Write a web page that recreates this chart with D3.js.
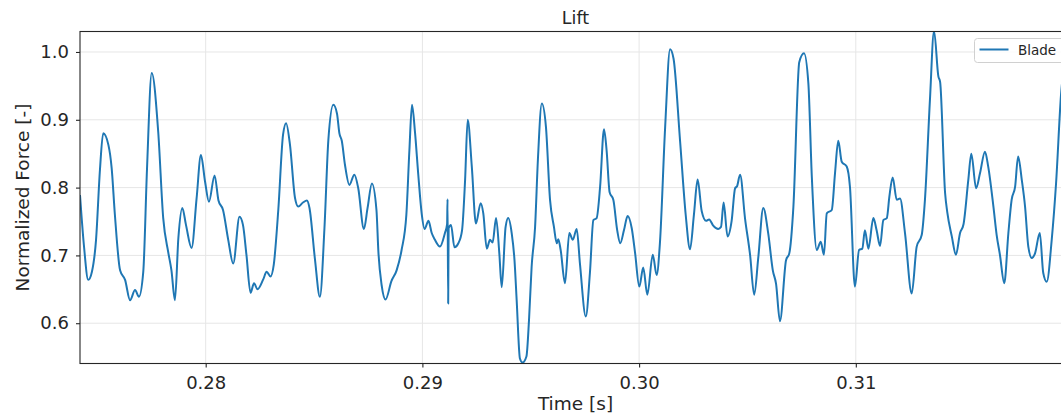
<!DOCTYPE html>
<html>
<head>
<meta charset="utf-8">
<script src="https://cdn.jsdelivr.net/npm/d3@7"></script>
<style>
  body { margin: 0; background: #fff; overflow: hidden; }
  svg { display: block; font-family: "DejaVu Sans", sans-serif; }
</style>
</head>
<body>
<div id="chart"></div>
<script>
// Time [s] samples
var times = [
  0.27420, 0.27438, 0.27458, 0.27475, 0.27494, 0.27512, 0.27527, 0.27551, 0.27566, 0.27581,
  0.27605, 0.27628, 0.27651, 0.27674, 0.27692, 0.27712, 0.27729, 0.27751, 0.27781, 0.27804,
  0.27827, 0.27842, 0.27858, 0.27874, 0.27892, 0.27909, 0.27935, 0.27958, 0.27978, 0.27997,
  0.28015, 0.28041, 0.28059, 0.28080, 0.28104, 0.28127, 0.28156, 0.28172, 0.28188, 0.28207,
  0.28223, 0.28239, 0.28266, 0.28281, 0.28299, 0.28314, 0.28335, 0.28357, 0.28371, 0.28389,
  0.28412, 0.28427, 0.28449, 0.28467, 0.28479, 0.28504, 0.28527, 0.28548, 0.28566, 0.28589,
  0.28606, 0.28617, 0.28628, 0.28643, 0.28663, 0.28686, 0.28704, 0.28730, 0.28747, 0.28767,
  0.28788, 0.28797, 0.28812, 0.28830, 0.28857, 0.28881, 0.28904, 0.28926, 0.28940, 0.28952,
  0.28966, 0.28981, 0.28997, 0.29010, 0.29028, 0.29043, 0.29058, 0.29081, 0.29104, 0.29114,
  0.29116, 0.29119, 0.29121, 0.29132, 0.29148, 0.29166, 0.29183, 0.29197, 0.29209, 0.29228,
  0.29247, 0.29269, 0.29281, 0.29297, 0.29312, 0.29324, 0.29340, 0.29355, 0.29366, 0.29384,
  0.29396, 0.29412, 0.29425, 0.29435, 0.29450, 0.29462, 0.29480, 0.29492, 0.29504, 0.29520,
  0.29533, 0.29551, 0.29570, 0.29589, 0.29607, 0.29620, 0.29627, 0.29638, 0.29658, 0.29678,
  0.29694, 0.29712, 0.29727, 0.29754, 0.29773, 0.29789, 0.29804, 0.29820, 0.29838, 0.29850,
  0.29864, 0.29881, 0.29899, 0.29913, 0.29930, 0.29947, 0.29966, 0.29981, 0.30001, 0.30019,
  0.30038, 0.30063, 0.30081, 0.30096, 0.30120, 0.30143, 0.30159, 0.30189, 0.30215, 0.30235,
  0.30253, 0.30270, 0.30289, 0.30309, 0.30323, 0.30342, 0.30365, 0.30378, 0.30390, 0.30408,
  0.30427, 0.30443, 0.30452, 0.30466, 0.30489, 0.30512, 0.30531, 0.30550, 0.30573, 0.30596,
  0.30617, 0.30632, 0.30650, 0.30678, 0.30693, 0.30712, 0.30739, 0.30761, 0.30781, 0.30797,
  0.30820, 0.30838, 0.30853, 0.30866, 0.30889, 0.30904, 0.30919, 0.30935, 0.30958, 0.30973,
  0.30996, 0.31015, 0.31030, 0.31042, 0.31058, 0.31081, 0.31096, 0.31112, 0.31127, 0.31143,
  0.31155, 0.31170, 0.31189, 0.31204, 0.31227, 0.31258, 0.31281, 0.31304, 0.31319, 0.31342,
  0.31361, 0.31381, 0.31389, 0.31412, 0.31422, 0.31443, 0.31462, 0.31481, 0.31497, 0.31519,
  0.31533, 0.31555, 0.31573, 0.31596, 0.31611, 0.31635, 0.31650, 0.31665, 0.31685, 0.31704,
  0.31719, 0.31735, 0.31749, 0.31766, 0.31781, 0.31796, 0.31812, 0.31827, 0.31849, 0.31865,
  0.31881, 0.31904, 0.31924, 0.31947, 0.31970
];

// Normalized lift force of the blade at those times
var forces = [
  0.789, 0.715, 0.664, 0.676, 0.723, 0.826, 0.880, 0.863, 0.829, 0.760,
  0.678, 0.664, 0.634, 0.649, 0.639, 0.676, 0.826, 0.969, 0.882, 0.755,
  0.705, 0.678, 0.634, 0.726, 0.770, 0.745, 0.711, 0.784, 0.848, 0.809,
  0.779, 0.818, 0.781, 0.767, 0.723, 0.688, 0.757, 0.745, 0.701, 0.645,
  0.659, 0.650, 0.665, 0.676, 0.669, 0.686, 0.767, 0.878, 0.895, 0.863,
  0.785, 0.772, 0.778, 0.781, 0.770, 0.695, 0.639, 0.740, 0.870, 0.922,
  0.909, 0.880, 0.869, 0.833, 0.804, 0.819, 0.799, 0.739, 0.770, 0.806,
  0.767, 0.705, 0.656, 0.635, 0.662, 0.678, 0.708, 0.760, 0.855, 0.922,
  0.881, 0.819, 0.761, 0.739, 0.751, 0.733, 0.723, 0.713, 0.733, 0.746,
  0.783, 0.629, 0.740, 0.745, 0.712, 0.718, 0.737, 0.811, 0.900, 0.831,
  0.747, 0.777, 0.762, 0.710, 0.723, 0.719, 0.755, 0.703, 0.653, 0.742,
  0.755, 0.733, 0.693, 0.634, 0.548, 0.542, 0.551, 0.605, 0.683, 0.742,
  0.841, 0.924, 0.890, 0.782, 0.742, 0.718, 0.724, 0.708, 0.659, 0.733,
  0.723, 0.739, 0.688, 0.610, 0.674, 0.752, 0.755, 0.801, 0.886, 0.855,
  0.793, 0.782, 0.737, 0.718, 0.737, 0.758, 0.740, 0.705, 0.654, 0.682,
  0.642, 0.701, 0.671, 0.718, 0.888, 1.004, 0.990, 0.869, 0.760, 0.709,
  0.760, 0.812, 0.765, 0.751, 0.753, 0.744, 0.739, 0.742, 0.778, 0.728,
  0.751, 0.799, 0.802, 0.819, 0.754, 0.701, 0.642, 0.697, 0.770, 0.732,
  0.678, 0.658, 0.603, 0.693, 0.703, 0.772, 0.985, 0.998, 0.954, 0.816,
  0.708, 0.720, 0.701, 0.762, 0.767, 0.821, 0.869, 0.838, 0.831, 0.801,
  0.654, 0.708, 0.710, 0.737, 0.710, 0.755, 0.737, 0.714, 0.752, 0.755,
  0.787, 0.815, 0.782, 0.784, 0.733, 0.644, 0.713, 0.730, 0.782, 0.929,
  1.031, 0.964, 0.956, 0.792, 0.764, 0.728, 0.701, 0.733, 0.746, 0.811,
  0.850, 0.799, 0.821, 0.853, 0.831, 0.772, 0.730, 0.701, 0.659, 0.733,
  0.782, 0.801, 0.846, 0.811, 0.772, 0.713, 0.696, 0.703, 0.733, 0.674,
  0.661, 0.723, 0.806, 0.937, 1.003
];

var xTicks = [0.28, 0.29, 0.30, 0.31];
var yTicks = [0.6, 0.7, 0.8, 0.9, 1.0];
var xDomain = [0.2742, 0.31993];
var yDomain = [0.5406, 1.0302];
var seriesName = "Blade";

function init() {
  var w = 1061;
  var h = 420;
  // axes box (the right spine sits just past the cropped edge)
  var left = 80, right = 1071, top = 31.5, bottom = 363.5;

  var dataset = times.map(function(t, i) {
    return { time: t, force: forces[i] };
  });

  var xScale = d3.scaleLinear()
    .domain(xDomain)
    .range([left, right]);

  var yScale = d3.scaleLinear()
    .domain(yDomain)
    .range([bottom, top]);

  var svg = d3.select("#chart")
    .append("svg")
    .attr("width", w)
    .attr("height", h);

  svg.append("clipPath")
    .attr("id", "plot-clip")
    .append("rect")
    .attr("x", left)
    .attr("y", top)
    .attr("width", right - left)
    .attr("height", bottom - top);

  // grid
  svg.append("g")
    .selectAll("line")
    .data(xTicks)
    .enter()
    .append("line")
    .attr("x1", d => xScale(d))
    .attr("x2", d => xScale(d))
    .attr("y1", top)
    .attr("y2", bottom)
    .attr("stroke", "#e6e6e6")
    .attr("stroke-width", 1);

  svg.append("g")
    .selectAll("line")
    .data(yTicks)
    .enter()
    .append("line")
    .attr("x1", left)
    .attr("x2", right)
    .attr("y1", d => yScale(d))
    .attr("y2", d => yScale(d))
    .attr("stroke", "#e6e6e6")
    .attr("stroke-width", 1);

  var line = d3.line()
    .x(d => xScale(d.time))
    .y(d => yScale(d.force))
    .curve(d3.curveMonotoneX);

  svg.append("path")
    .datum(dataset)
    .attr("clip-path", "url(#plot-clip)")
    .attr("fill", "none")
    .attr("stroke", "#1f77b4")
    .attr("stroke-width", 2)
    .attr("stroke-linejoin", "round")
    .attr("d", line);

  // spines
  svg.append("rect")
    .attr("x", left)
    .attr("y", top)
    .attr("width", right - left)
    .attr("height", bottom - top)
    .attr("fill", "none")
    .attr("stroke", "#262626")
    .attr("stroke-width", 1.1);

  var xAxis = d3.axisBottom(xScale)
    .tickValues(xTicks)
    .tickFormat(d3.format(".2f"))
    .tickSize(4)
    .tickPadding(8.5);

  var yAxis = d3.axisLeft(yScale)
    .tickValues(yTicks)
    .tickFormat(d3.format(".1f"))
    .tickSize(4)
    .tickPadding(7);

  var gx = svg.append("g")
    .attr("transform", `translate(0,${bottom})`)
    .call(xAxis);

  var gy = svg.append("g")
    .attr("transform", `translate(${left},0)`)
    .call(yAxis);

  [gx, gy].forEach(function(g) {
    g.select(".domain").remove();
    g.selectAll(".tick line").attr("stroke", "#262626").attr("stroke-width", 1.1);
    g.selectAll(".tick text")
      .attr("fill", "#262626")
      .style("font-family", "DejaVu Sans, sans-serif")
      .style("font-size", "18px");
  });

  // titles
  svg.append("text")
    .attr("x", (left + right) / 2)
    .attr("y", 24)
    .attr("text-anchor", "middle")
    .attr("fill", "#262626")
    .style("font-size", "17.5px")
    .text("Lift");

  svg.append("text")
    .attr("x", (left + right) / 2)
    .attr("y", 410)
    .attr("text-anchor", "middle")
    .attr("fill", "#262626")
    .style("font-size", "18.5px")
    .text("Time [s]");

  svg.append("text")
    .attr("transform", `translate(29,${(top + bottom) / 2}) rotate(-90)`)
    .attr("text-anchor", "middle")
    .attr("fill", "#262626")
    .style("font-size", "18.5px")
    .text("Normalized Force [-]");

  // legend
  var legend = svg.append("g");
  legend.append("rect")
    .attr("x", 974.5)
    .attr("y", 38.5)
    .attr("width", 90)
    .attr("height", 24)
    .attr("rx", 3)
    .attr("fill", "#fff")
    .attr("fill-opacity", 0.8)
    .attr("stroke", "#d0d0d0")
    .attr("stroke-width", 1);

  legend.append("line")
    .attr("x1", 979.5)
    .attr("x2", 1008.5)
    .attr("y1", 49.5)
    .attr("y2", 49.5)
    .attr("stroke", "#1f77b4")
    .attr("stroke-width", 2);

  legend.append("text")
    .attr("x", 1018)
    .attr("y", 55)
    .attr("fill", "#262626")
    .style("font-size", "13.5px")
    .text(seriesName);
}

window.onload = init;
</script>
</body>
</html>
